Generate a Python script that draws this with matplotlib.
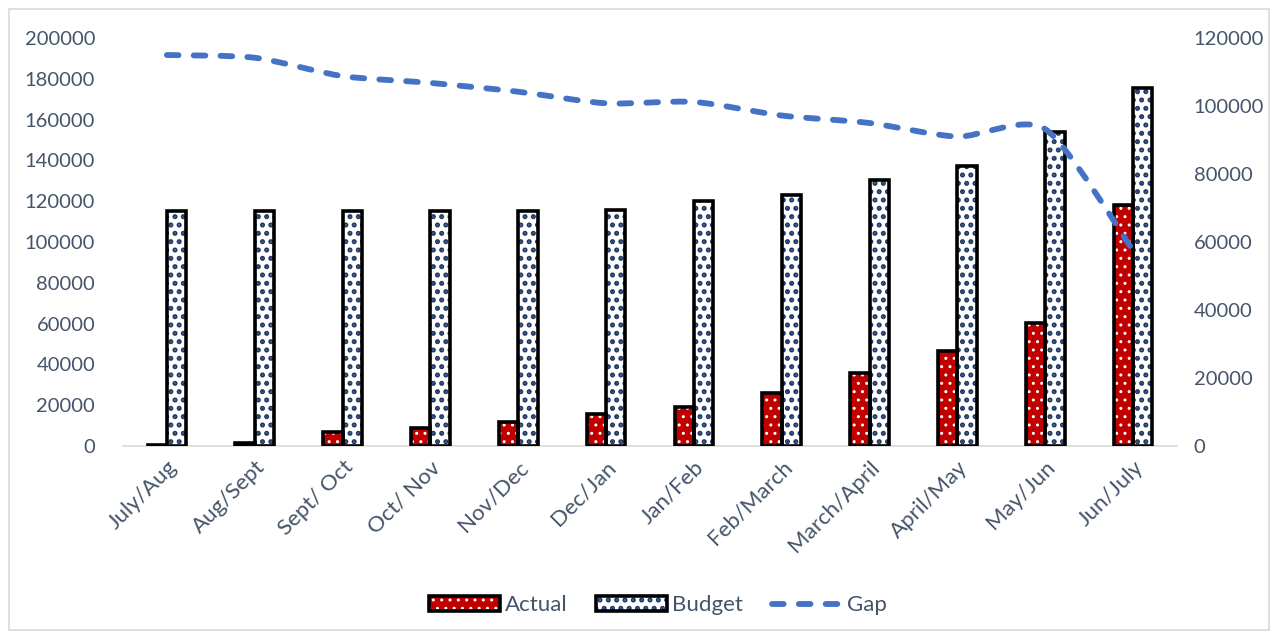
import numpy as np
import matplotlib
matplotlib.use("Agg")
import matplotlib.pyplot as plt
from matplotlib.patches import Patch, Rectangle, PathPatch
from matplotlib.lines import Line2D
from matplotlib.path import Path

months = ["July/Aug", "Aug/Sept", "Sept/ Oct", "Oct/ Nov", "Nov/Dec", "Dec/Jan",
          "Jan/Feb", "Feb/March", "March/April", "April/May", "May/Jun", "Jun/July"]
actual = [500, 1500, 6900, 8800, 11700, 15600, 19000, 26000, 35800, 46600, 60300, 118000]
budget = [115000, 115000, 115000, 115000, 115000, 115500, 120300, 123200, 130200, 137500, 154000, 175500]
gap = [115000, 114200, 108800, 106800, 104200, 100800, 101200, 97200, 95000, 91000, 93200, 57500]

text_col = "#44546A"
red = "#C00000"
navy = "#1F3864"
blue = "#4472C4"

plt.rcParams["font.family"] = ["Lato", "DejaVu Sans"]


def set_hatch_lw(artists, lw):
    for p in artists:
        if hasattr(p, "set_hatch_linewidth"):
            p.set_hatch_linewidth(lw)
        else:
            p._hatch_linewidth = lw


fig = plt.figure(figsize=(12.78, 6.38), dpi=100)
ax = fig.add_axes([0.0962, 0.301, 0.8248, 0.6394])
ax2 = ax.twinx()

x = np.arange(len(months))
w = 0.22

# hatched fills first, then black outlines on top
b1 = ax.bar(x - w / 2, actual, w, facecolor=red, edgecolor="white", linewidth=0, hatch="..", zorder=2)
b2 = ax.bar(x + w / 2, budget, w, facecolor="white", edgecolor=navy, linewidth=0, hatch="..", zorder=2)
set_hatch_lw(b1, 1.0)
set_hatch_lw(b2, 2.4)
ax.bar(x - w / 2, actual, w, fill=False, edgecolor="black", linewidth=2.6, zorder=3)
ax.bar(x + w / 2, budget, w, fill=False, edgecolor="black", linewidth=2.6, zorder=3)

# smoothed gap line through the data points
pts = np.column_stack([x, gap]).astype(float)
verts = [pts[0]]
codes = [Path.MOVETO]
k = 8.0
for i in range(len(pts) - 1):
    p0 = pts[i - 1] if i > 0 else pts[i]
    p1, p2 = pts[i], pts[i + 1]
    p3 = pts[i + 2] if i + 2 < len(pts) else pts[i + 1]
    verts += [p1 + (p2 - p0) / k, p2 - (p3 - p1) / k, p2]
    codes += [Path.CURVE4] * 3
dash = (0, (2.0, 2.6))
ax2.add_patch(PathPatch(Path(verts, codes), fill=False, edgecolor=blue, linewidth=4.2,
                        linestyle=dash, capstyle="round"))

ax.set_xlim(-0.5, len(months) - 0.5)
ax.set_ylim(0, 200000)
ax2.set_ylim(0, 120000)
ax.set_yticks(np.arange(0, 200001, 20000))
ax2.set_yticks(np.arange(0, 120001, 20000))
ax.set_xticks(x)
ax.set_xticklabels(months, rotation=45, ha="right", rotation_mode="anchor")

for a in (ax, ax2):
    for s in a.spines.values():
        s.set_visible(False)
    a.tick_params(length=0, labelsize=14.5, colors=text_col)
ax.spines["bottom"].set_visible(True)
ax.spines["bottom"].set_color("#D9D9D9")
ax.spines["bottom"].set_linewidth(1.2)
ax.tick_params(axis="y", pad=20)
ax.tick_params(axis="x", pad=8, labelsize=16)
ax2.tick_params(axis="y", pad=12)

h_act_fill = Patch(facecolor=red, edgecolor="white", linewidth=0, hatch="..")
h_bud_fill = Patch(facecolor="white", edgecolor=navy, linewidth=0, hatch="..")
h_act = (h_act_fill, Patch(fill=False, edgecolor="black", linewidth=2.6))
h_bud = (h_bud_fill, Patch(fill=False, edgecolor="black", linewidth=2.6))
h_gap = Line2D([], [], color=blue, linewidth=4.2, linestyle=dash, dash_capstyle="round")
leg = fig.legend([h_act, h_bud, h_gap], ["Actual", "Budget", "Gap"],
                 loc="center", bbox_to_anchor=(0.515, 0.051), ncol=3, frameon=False,
                 fontsize=16, labelcolor=text_col, handlelength=3.2, handleheight=0.7,
                 columnspacing=1.3, handletextpad=0.2)
for r in leg.findobj(Rectangle):
    if r.get_hatch():
        set_hatch_lw([r], 1.0 if r.get_facecolor()[1] < 0.5 else 2.4)

fig.patches.append(Rectangle((0.007, 0.012), 0.986, 0.974, transform=fig.transFigure,
                             fill=False, edgecolor="#D9D9D9", linewidth=1.2))

fig.savefig("out.png", dpi=100)
